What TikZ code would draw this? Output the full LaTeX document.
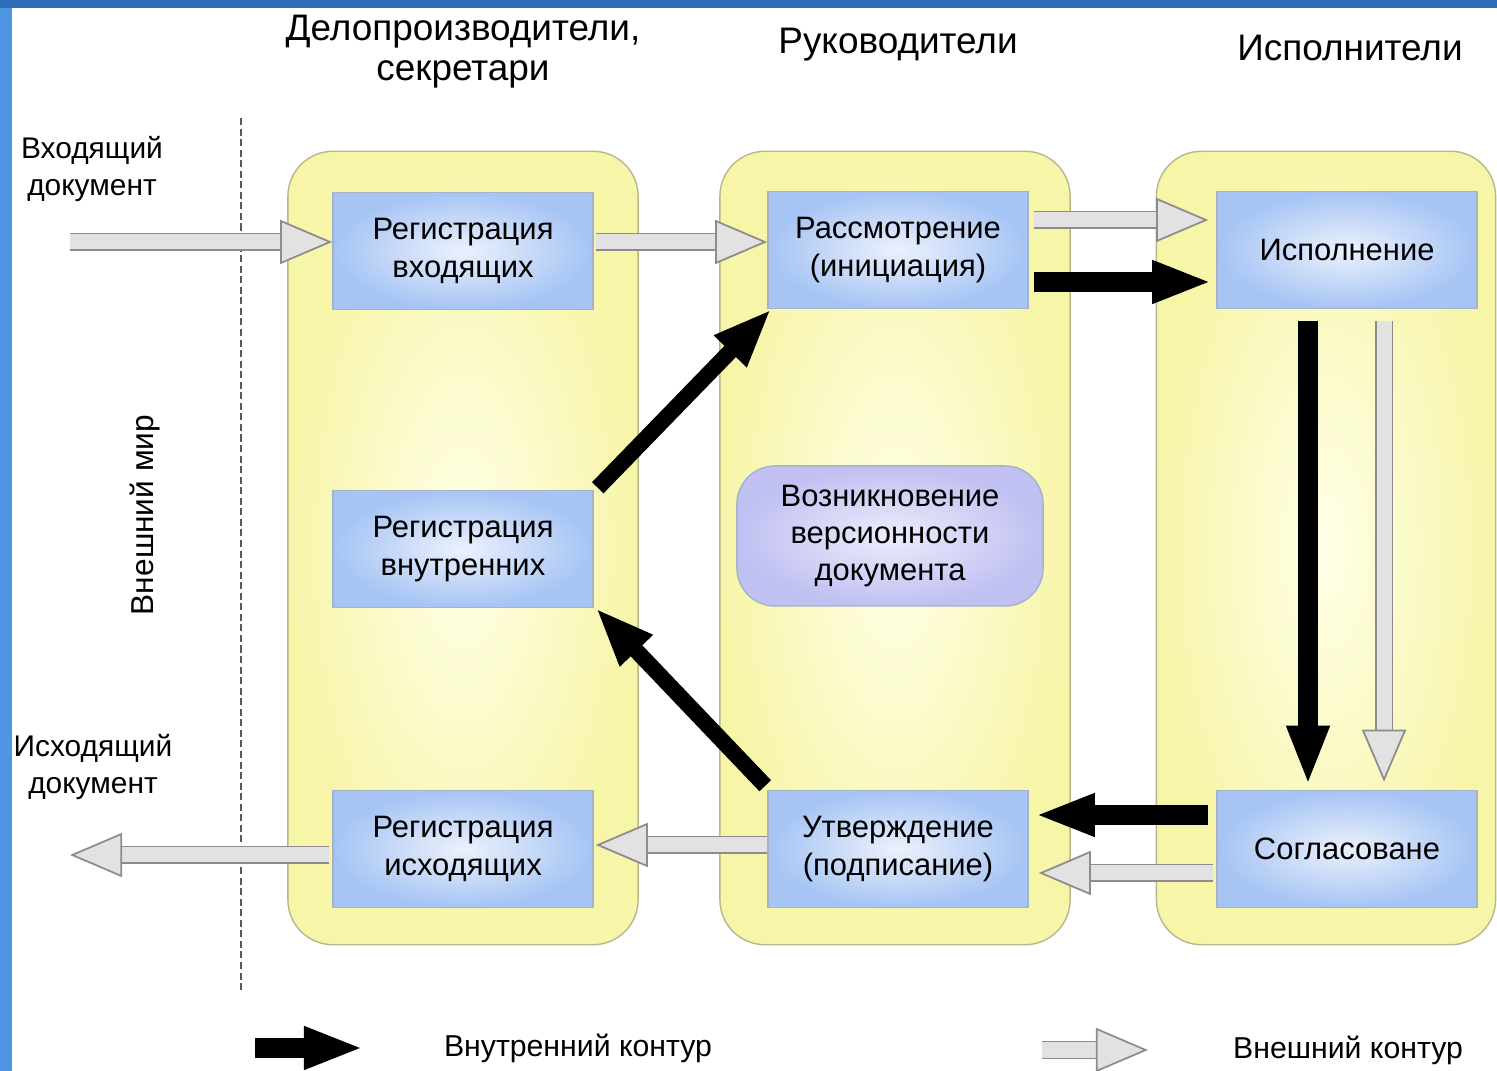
\documentclass[tikz,border=0pt]{standalone}
\usepackage{fontspec}
\setmainfont{Liberation Sans}
\usetikzlibrary{calc,arrows.meta}
\definecolor{lanefill}{RGB}{247,245,168}
\definecolor{lanemid}{RGB}{255,255,232}
\definecolor{laneline}{RGB}{185,183,140}
\definecolor{boxfill}{RGB}{166,196,244}
\definecolor{boxmid}{RGB}{236,241,252}
\definecolor{boxline}{RGB}{165,178,200}
\definecolor{verfill}{RGB}{192,192,242}
\definecolor{vermid}{RGB}{236,236,252}
\definecolor{ghost}{RGB}{226,226,226}
\definecolor{ghostline}{RGB}{140,140,140}
\definecolor{frametop}{RGB}{46,110,182}
\definecolor{frameleft}{RGB}{80,148,228}
\def\drawinner{\draw[innerarrow]}
\def\drawouter{\draw[outerarrow]}
\def\stepnode{\node[stepbox]}

\begin{document}
\begin{tikzpicture}[x=0.01cm,y=-0.01cm,
  lane/.style={draw=laneline,rounded corners=0.45cm,inner color=lanemid,outer color=lanefill,minimum height=7.93cm},
  stepbox/.style={draw=boxline,inner color=boxmid,outer color=boxfill,minimum width=2.6cm,minimum height=1.17cm,align=center,font=\fontsize{8.8}{10.6}\selectfont},
  head/.style={align=center,font=\fontsize{10.5}{11.4}\selectfont},
  side/.style={align=center,font=\fontsize{8.5}{10.6}\selectfont},
  innerarrow/.style={line width=0.2cm,-{Triangle[length=0.56cm,width=0.44cm,line width=0.4pt]}},
  diagarrow/.style={line width=0.16cm,-{Triangle[length=0.56cm,width=0.46cm,line width=0.4pt]}},
  outerarrow/.style={draw=ghost,line width=0.15cm,-{Triangle[length=0.52cm,width=0.44cm,color=ghostline,fill=ghost,line width=0.5pt]},
    preaction={draw=ghostline,line width=0.18cm,shorten >=0.48cm,-}}]
\useasboundingbox (0,0) rectangle (1497,1071);

% ---------- frame of the slide
\fill[frametop] (0,0) rectangle (1497,8);
\fill[frameleft] (0,8) rectangle (12,1071);

% ---------- column heads
\node[head] (h_clerks) at (463,52) {Делопроизводители,\\секретари};
\node[head] (h_heads) at (898,45) {Руководители};
\node[head] (h_doers) at (1350,48) {Исполнители};

% ---------- outside world
\node[side] (in_doc) at (92,169) {Входящий\\документ};
\node[side] (out_doc) at (93,767) {Исходящий\\документ};
\node[side,rotate=90,font=\fontsize{9}{10}\selectfont] (world) at (145,515) {Внешний мир};
\coordinate (wall_top) at (241,118);
\coordinate (wall_bot) at (241,990);
\draw[gray!70!black,line width=0.5pt,dash pattern=on 2pt off 1pt] (wall_top) -- (wall_bot);

% ---------- lanes
\node[lane,minimum width=3.5cm] (lane_clerks) at (463,548) {};
\node[lane,minimum width=3.5cm] (lane_heads) at (895,548) {};
\node[lane,minimum width=3.39cm] (lane_doers) at (1326,548) {};

% ---------- steps
\stepnode (reg_in) at (463,251) {Регистрация\\входящих};
\stepnode (reg_int) at (463,549) {Регистрация\\внутренних};
\stepnode (reg_out) at (463,849) {Регистрация\\исходящих};
\stepnode (review) at (898,250) {Рассмотрение\\(инициация)};
\stepnode (approve) at (898,849) {Утверждение\\(подписание)};
\stepnode (execute) at (1347,250) {Исполнение};
\stepnode (agree) at (1347,849) {Согласоване};
\node[draw=boxline,inner color=vermid,outer color=verfill,rounded corners=0.38cm,
  minimum width=3.06cm,minimum height=1.4cm,align=center,
  font=\fontsize{8.8}{10.6}\selectfont] (version) at (890,536) {Возникновение\\версионности\\документа};

% ---------- outer loop (grey)
\coordinate (in_start) at (70,242);
\coordinate (out_end) at (70,855);
\drawouter (in_start) -- (reg_in.west |- in_start);
\drawouter ($(reg_in.east)+(2,-9)$) -- ($(review.west)+(0,-8)$);
\drawouter ($(review.east)+(5,-30)$) -- ($(execute.west)+(-8,-30)$);
\drawouter ($(execute.south)+(37,12)$) -- ($(agree.north)+(37,-8)$);
\drawouter ($(agree.west)+(-3,24)$) -- ($(approve.east)+(10,24)$);
\drawouter ($(approve.west)+(0,-4)$) -- ($(reg_out.east)+(2,-4)$);
\drawouter ($(reg_out.west)+(-3,6)$) -- (out_end);

% ---------- inner loop (black)
\drawinner ($(review.east)+(5,32)$) -- ($(execute.west)+(-8,32)$);
\drawinner ($(execute.south)+(-39,12)$) -- ($(agree.north)+(-39,-8)$);
\drawinner ($(agree.west)+(-8,-34)$) -- ($(approve.east)+(10,-34)$);
\draw[diagarrow] ($(approve.north west)+(-2,-4)$) -- ($(reg_int.south east)+(4,2)$);
\draw[diagarrow] ($(reg_int.north east)+(4,-2)$) -- ($(review.south west)+(2,2)$);

% ---------- legend
\coordinate (leg_in_a) at (255,1048);
\coordinate (leg_in_b) at (360,1048);
\coordinate (leg_out_a) at (1042,1050);
\coordinate (leg_out_b) at (1148,1050);
\drawinner (leg_in_a) -- (leg_in_b);
\drawouter (leg_out_a) -- (leg_out_b);
\node[side,font=\fontsize{8.6}{10}\selectfont] (leg_in) at (578,1048) {Внутренний контур};
\node[side,font=\fontsize{8.6}{10}\selectfont] (leg_out) at (1348,1050) {Внешний контур};
\end{tikzpicture}
\end{document}
